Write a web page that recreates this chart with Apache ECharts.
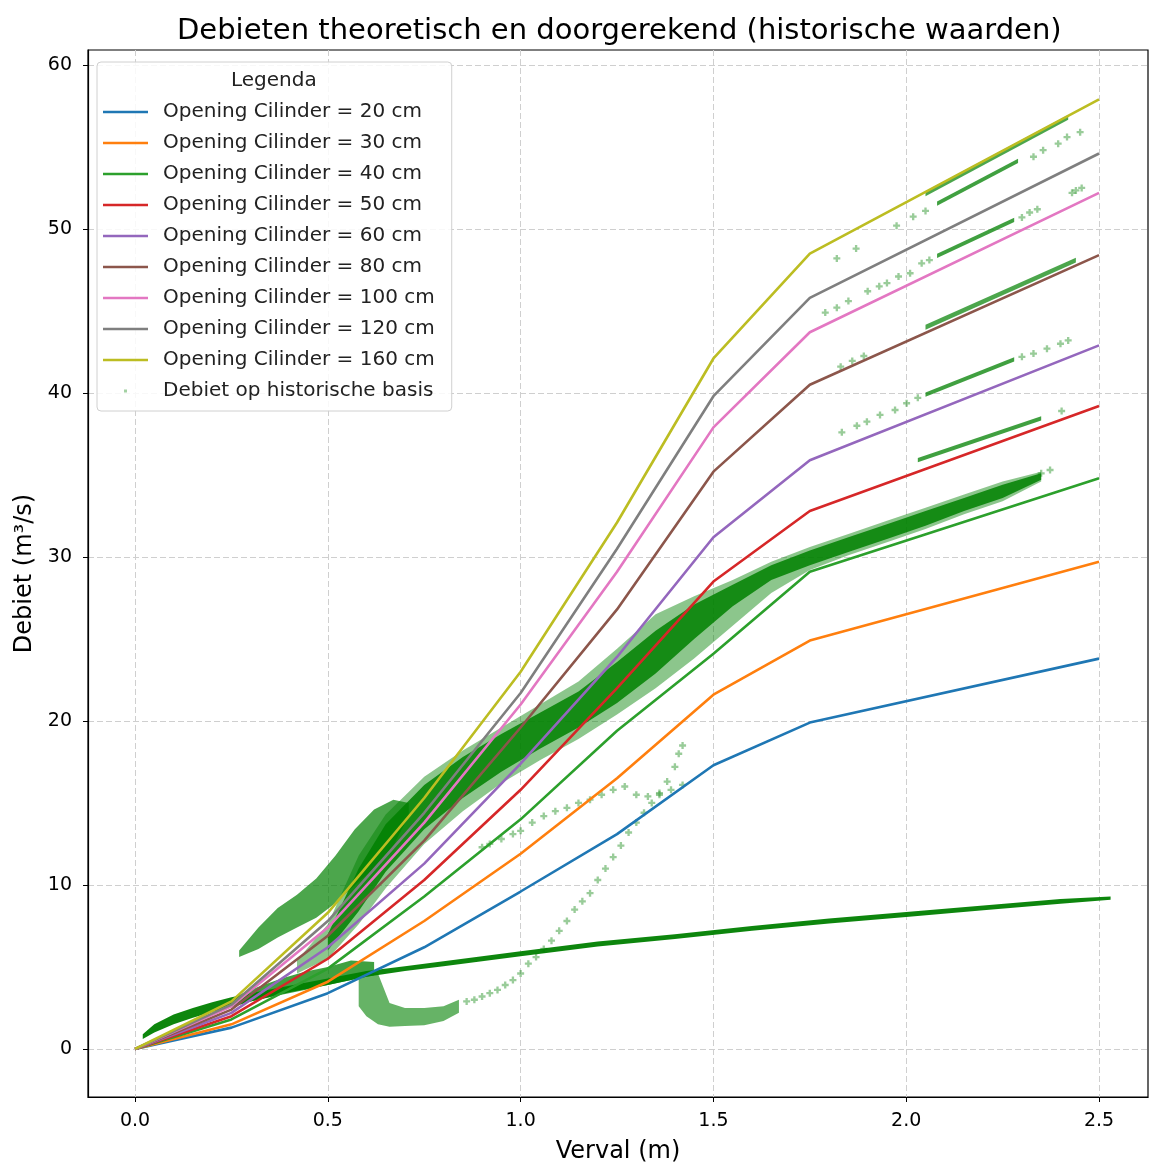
<!DOCTYPE html>
<html>
<head>
<meta charset="utf-8">
<title>Debieten theoretisch en doorgerekend</title>
<script src="https://cdn.jsdelivr.net/npm/echarts@6/dist/echarts.min.js"></script>
<style>
  html, body { margin: 0; padding: 0; background: #fff; }
  #chart { width: 1149px; height: 1162px; }
</style>
</head>
<body>
<div id="chart"></div>
<script>
// verval (m) waar de theoretische lijnen een knik hebben
const verval = [0, 0.25, 0.5, 0.75, 1.0, 1.25, 1.5, 1.75, 2.5]

// theoretisch debiet (m3/s) per opening
const q20 = [0, 1.3, 3.4, 6.2, 9.6, 13.1, 17.3, 19.9, 23.8]
const q30 = [0, 1.5, 4.1, 7.8, 11.9, 16.5, 21.6, 24.9, 29.7]
const q40 = [0, 1.8, 4.9, 9.3, 14.0, 19.4, 24.1, 29.1, 34.8]
const q50 = [0, 2.0, 5.5, 10.3, 15.8, 22.0, 28.5, 32.8, 39.2]
const q60 = [0, 2.2, 6.2, 11.3, 17.4, 23.9, 31.2, 35.9, 42.9]
const q80 = [0, 2.4, 6.9, 12.7, 19.6, 26.8, 35.2, 40.5, 48.4]
const q100 = [0, 2.6, 7.4, 13.8, 21.0, 29.1, 37.9, 43.7, 52.2]
const q120 = [0, 2.7, 7.8, 14.4, 21.7, 30.5, 39.8, 45.8, 54.6]
const q160 = [0, 2.9, 8.3, 15.3, 23.0, 32.1, 42.1, 48.5, 57.9]

const openings = ['20', '30', '40', '50', '60', '80', '100', '120', '160']
const lineColors = ['#1f77b4', '#ff7f0e', '#2ca02c', '#d62728', '#9467bd', '#8c564b', '#e377c2', '#7f7f7f', '#bcbd22']

// historische punten: dichte wolken als [verval, onder, boven]
const sqrtBand = [[0.02, 0.6, 0.9], [0.05, 1.0, 1.5], [0.10, 1.5, 2.1], [0.15, 1.9, 2.5], [0.20, 2.25, 2.85],
  [0.25, 2.55, 3.15], [0.30, 2.9, 3.4], [0.40, 3.45, 3.85], [0.50, 3.9, 4.3], [0.60, 4.4, 4.75],
  [0.70, 4.75, 5.05], [0.80, 5.05, 5.35], [0.90, 5.35, 5.65], [1.00, 5.65, 5.95], [1.20, 6.25, 6.55],
  [1.40, 6.7, 7.0], [1.60, 7.2, 7.5], [1.80, 7.65, 7.95], [2.00, 8.05, 8.35], [2.20, 8.45, 8.75],
  [2.40, 8.85, 9.15], [2.53, 9.1, 9.3]]
const lowBand = [[0.26, 2.7, 3.2], [0.32, 3.0, 3.8], [0.38, 3.3, 4.3], [0.44, 3.6, 4.7], [0.50, 3.9, 5.0],
  [0.56, 4.2, 5.4], [0.62, 4.5, 5.3]]
const cloudBand = [[0.27, 5.6, 6.0], [0.32, 6.1, 7.4], [0.37, 6.8, 8.6], [0.42, 7.4, 9.4], [0.47, 8.0, 10.4],
  [0.52, 8.9, 11.8], [0.57, 10.0, 13.4], [0.62, 11.0, 14.6], [0.67, 12.4, 15.2], [0.71, 14.2, 15.0]]
const clumpBand = [[0.58, 2.6, 4.6], [0.60, 2.0, 4.7], [0.63, 1.5, 4.6], [0.66, 1.35, 2.8], [0.70, 1.4, 2.5],
  [0.75, 1.45, 2.5], [0.80, 1.7, 2.6], [0.84, 2.2, 3.0]]
const mainOuter = [[0.42, 4.6, 5.4], [0.50, 5.5, 7.6], [0.58, 7.6, 11.8], [0.65, 9.8, 14.3], [0.75, 12.5, 16.6],
  [0.85, 14.5, 18.2], [0.95, 16.2, 19.6], [1.05, 17.6, 21.0], [1.15, 18.9, 22.4], [1.25, 20.4, 24.4],
  [1.35, 22.0, 26.5], [1.45, 23.8, 27.6], [1.55, 25.8, 28.6], [1.65, 27.8, 29.7], [1.75, 29.2, 30.6],
  [1.85, 30.1, 31.4], [1.95, 30.9, 32.2], [2.05, 31.7, 33.0], [2.15, 32.6, 33.8], [2.25, 33.4, 34.6],
  [2.35, 34.6, 35.2]]
const mainCore = [[0.50, 6.0, 7.0], [0.58, 8.4, 11.0], [0.65, 10.8, 13.7], [0.75, 13.4, 16.1], [0.85, 15.3, 17.8],
  [0.95, 16.9, 19.2], [1.05, 18.3, 20.5], [1.15, 19.6, 21.8], [1.25, 21.1, 23.6], [1.35, 22.9, 25.5],
  [1.45, 25.0, 27.1], [1.55, 27.0, 28.3], [1.65, 28.6, 29.5], [1.75, 29.5, 30.4], [1.85, 30.3, 31.2],
  [1.95, 31.1, 32.0], [2.05, 31.9, 32.8], [2.15, 32.8, 33.6], [2.25, 33.6, 34.4], [2.35, 34.7, 35.1]]
const track1 = [[2.05, 52.0, 52.3], [2.42, 56.65, 56.95]]
const track2 = [[2.08, 51.42, 51.68], [2.29, 54.02, 54.28]]
const track3 = [[2.08, 48.22, 48.48], [2.28, 50.42, 50.68]]
const track4 = [[2.05, 43.85, 44.15], [2.44, 47.95, 48.25]]
const track5 = [[2.05, 39.77, 40.03], [2.28, 41.92, 42.18]]
const track6 = [[2.03, 35.77, 36.03], [2.35, 38.32, 38.58]]

// losse historische punten
const loopPts = [[0.86, 2.9], [0.88, 3.0], [0.90, 3.2], [0.92, 3.4], [0.94, 3.6], [0.96, 3.9], [0.98, 4.2],
  [1.00, 4.6], [1.02, 5.2], [1.04, 5.6], [1.06, 6.1], [1.08, 6.6], [1.10, 7.2], [1.12, 7.8], [1.14, 8.5],
  [1.16, 9.0], [1.18, 9.5], [1.20, 10.3], [1.22, 11.0], [1.24, 11.7], [1.26, 12.4], [1.28, 13.2],
  [1.30, 13.8], [1.32, 14.4], [1.34, 15.0], [1.36, 15.6], [1.38, 16.3], [1.40, 17.2], [1.41, 18.0], [1.42, 18.5]]
const branchPts = [[0.90, 12.3], [0.92, 12.5], [0.95, 12.8], [0.98, 13.1], [1.00, 13.3], [1.03, 13.8],
  [1.06, 14.2], [1.09, 14.5], [1.12, 14.7], [1.15, 15.0], [1.18, 15.2], [1.21, 15.5], [1.24, 15.8],
  [1.27, 16.0], [1.30, 15.5], [1.33, 15.4], [1.36, 15.5], [1.39, 15.8], [1.42, 16.1]]
const sparsePts = [[1.82, 48.2], [1.87, 48.8], [1.975, 50.2], [2.018, 50.75], [2.05, 51.1], [2.33, 54.4],
  [2.355, 54.8], [2.394, 55.2], [2.417, 55.6], [2.451, 55.9],
  [1.79, 44.9], [1.82, 45.2], [1.85, 45.6], [1.90, 46.2], [1.93, 46.5], [1.95, 46.7], [1.98, 47.1],
  [2.01, 47.3], [2.04, 47.9], [2.06, 48.1], [2.30, 50.7], [2.32, 51.0], [2.34, 51.2], [2.43, 52.2],
  [2.44, 52.35], [2.455, 52.5],
  [1.83, 41.6], [1.86, 41.95], [1.89, 42.25],
  [1.833, 37.6], [1.872, 38.0], [1.898, 38.25], [1.932, 38.66], [1.971, 38.96], [2.001, 39.37],
  [2.03, 39.7], [2.30, 42.2], [2.33, 42.4], [2.365, 42.7], [2.40, 43.0], [2.42, 43.2],
  [2.403, 38.9], [2.35, 35.1], [2.373, 35.3]]

const xTicks = [0, 0.5, 1.0, 1.5, 2.0, 2.5]
const yTicks = [0, 10, 20, 30, 40, 50, 60]

const histName = 'Debiet op historische basis'
const font = 'DejaVu Sans'
const green = 'rgba(0,128,0,'

// vlak tussen onder- en bovengrens, via de assen omgerekend
function bandSeries(rows, alpha) {
  return {
    type: 'custom',
    name: histName,
    data: rows,
    encode: { x: 0, y: [1, 2] },
    z: 2,
    silent: true,
    renderItem: function(params, api) {
      if (params.dataIndex !== 0) return null
      const top = rows.map(r => api.coord([r[0], r[2]]))
      const bottom = rows.map(r => api.coord([r[0], r[1]])).reverse()
      return {
        type: 'polygon',
        shape: { points: top.concat(bottom) },
        style: { fill: green + alpha + ')' }
      }
    }
  }
}

const plusIcon = 'path://M2,0h2v2h2v2h-2v2h-2v-2h-2v-2h2z'
const lineIcon = 'path://M0,0h0.01v0.01h-0.01z M0,8.7h45v2.6h-45z M44.99,19.99h0.01v0.01h-0.01z'
const dotIcon = 'path://M0,0h0.01v0.01h-0.01z M21,8.5h3v3h-3z M44.99,19.99h0.01v0.01h-0.01z'

const chart = echarts.init(document.getElementById('chart'))

const series = [
  {
    type: 'scatter',
    name: histName,
    data: loopPts.concat(branchPts, sparsePts),
    symbol: plusIcon,
    symbolSize: 7,
    itemStyle: { color: green + '0.5)' },
    z: 2,
    silent: true
  },
  bandSeries(sqrtBand, 0.95),
  bandSeries(lowBand, 0.75),
  bandSeries(cloudBand, 0.7),
  bandSeries(clumpBand, 0.6),
  bandSeries(mainOuter, 0.45),
  bandSeries(mainCore, 0.85),
  bandSeries(track1, 0.7),
  bandSeries(track2, 0.75),
  bandSeries(track3, 0.75),
  bandSeries(track4, 0.7),
  bandSeries(track5, 0.75),
  bandSeries(track6, 0.75)
]

const qAll = [q20, q30, q40, q50, q60, q80, q100, q120, q160]
const lineNames = openings.map(o => 'Opening Cilinder = ' + o + ' cm')
qAll.forEach((q, i) => {
  series.push({
    type: 'line',
    name: lineNames[i],
    data: verval.map((v, j) => [v, q[j]]),
    symbol: 'none',
    color: lineColors[i],
    lineStyle: { width: 2.6, color: lineColors[i] },
    z: 3,
    silent: true
  })
})

const legendData = lineNames.map(n => ({ name: n, icon: lineIcon }))
legendData.push({ name: histName, icon: dotIcon, itemStyle: { color: green + '0.45)' } })

const option = {
  animation: false,
  backgroundColor: '#fff',
  title: [
    {
      text: 'Debieten theoretisch en doorgerekend (historische waarden)',
      left: 177,
      top: 17,
      padding: 0,
      textStyle: { fontFamily: font, fontSize: 29, fontWeight: 'normal', color: '#000' }
    },
    {
      text: 'Legenda',
      left: 231,
      top: 71,
      padding: 0,
      z: 10,
      textStyle: { fontFamily: font, fontSize: 20, fontWeight: 'normal', color: '#222' }
    }
  ],
  legend: {
    orient: 'vertical',
    left: 97,
    top: 62,
    padding: [40, 17, 10, 6],
    itemWidth: 45,
    itemHeight: 20,
    itemGap: 11,
    backgroundColor: 'rgba(255,255,255,0.85)',
    borderColor: '#d0d0d0',
    borderWidth: 1,
    borderRadius: 4,
    selectedMode: false,
    data: legendData,
    textStyle: { fontFamily: font, fontSize: 20, color: '#222', padding: [0, 0, 0, 10] }
  },
  grid: {
    left: 88,
    right: 1,
    top: 50,
    bottom: 65,
    outerBoundsMode: 'none',
    containLabel: false,
    show: true,
    borderColor: '#000',
    borderWidth: 1.2,
    backgroundColor: 'transparent'
  },
  xAxis: {
    type: 'value',
    min: -0.122,
    max: 2.627,
    name: 'Verval (m)',
    nameLocation: 'middle',
    nameGap: 43,
    nameTextStyle: { fontFamily: font, fontSize: 24, color: '#000' },
    axisLine: { show: true, onZero: false, lineStyle: { color: '#000', width: 1.2 } },
    axisTick: { show: true, customValues: xTicks, length: 5, lineStyle: { color: '#000' } },
    axisLabel: {
      customValues: xTicks,
      margin: 15,
      fontFamily: font,
      fontSize: 19,
      color: '#000',
      formatter: v => v.toFixed(1)
    },
    splitLine: { show: true, lineStyle: { color: '#cfcfcf', type: [6, 3], width: 1 } }
  },
  yAxis: {
    type: 'value',
    min: -2.93,
    max: 60.91,
    name: 'Debiet (m³/s)',
    nameLocation: 'middle',
    nameGap: 50,
    nameTextStyle: { fontFamily: font, fontSize: 24, color: '#000' },
    axisLine: { show: true, onZero: false, lineStyle: { color: '#000', width: 1.2 } },
    axisTick: { show: true, customValues: yTicks, length: 5, lineStyle: { color: '#000' } },
    axisLabel: { customValues: yTicks, margin: 16, fontFamily: font, fontSize: 19, color: '#000' },
    splitLine: { show: true, lineStyle: { color: '#cfcfcf', type: [6, 3], width: 1 } }
  },
  series: series
}

chart.setOption(option)
</script>
</body>
</html>
